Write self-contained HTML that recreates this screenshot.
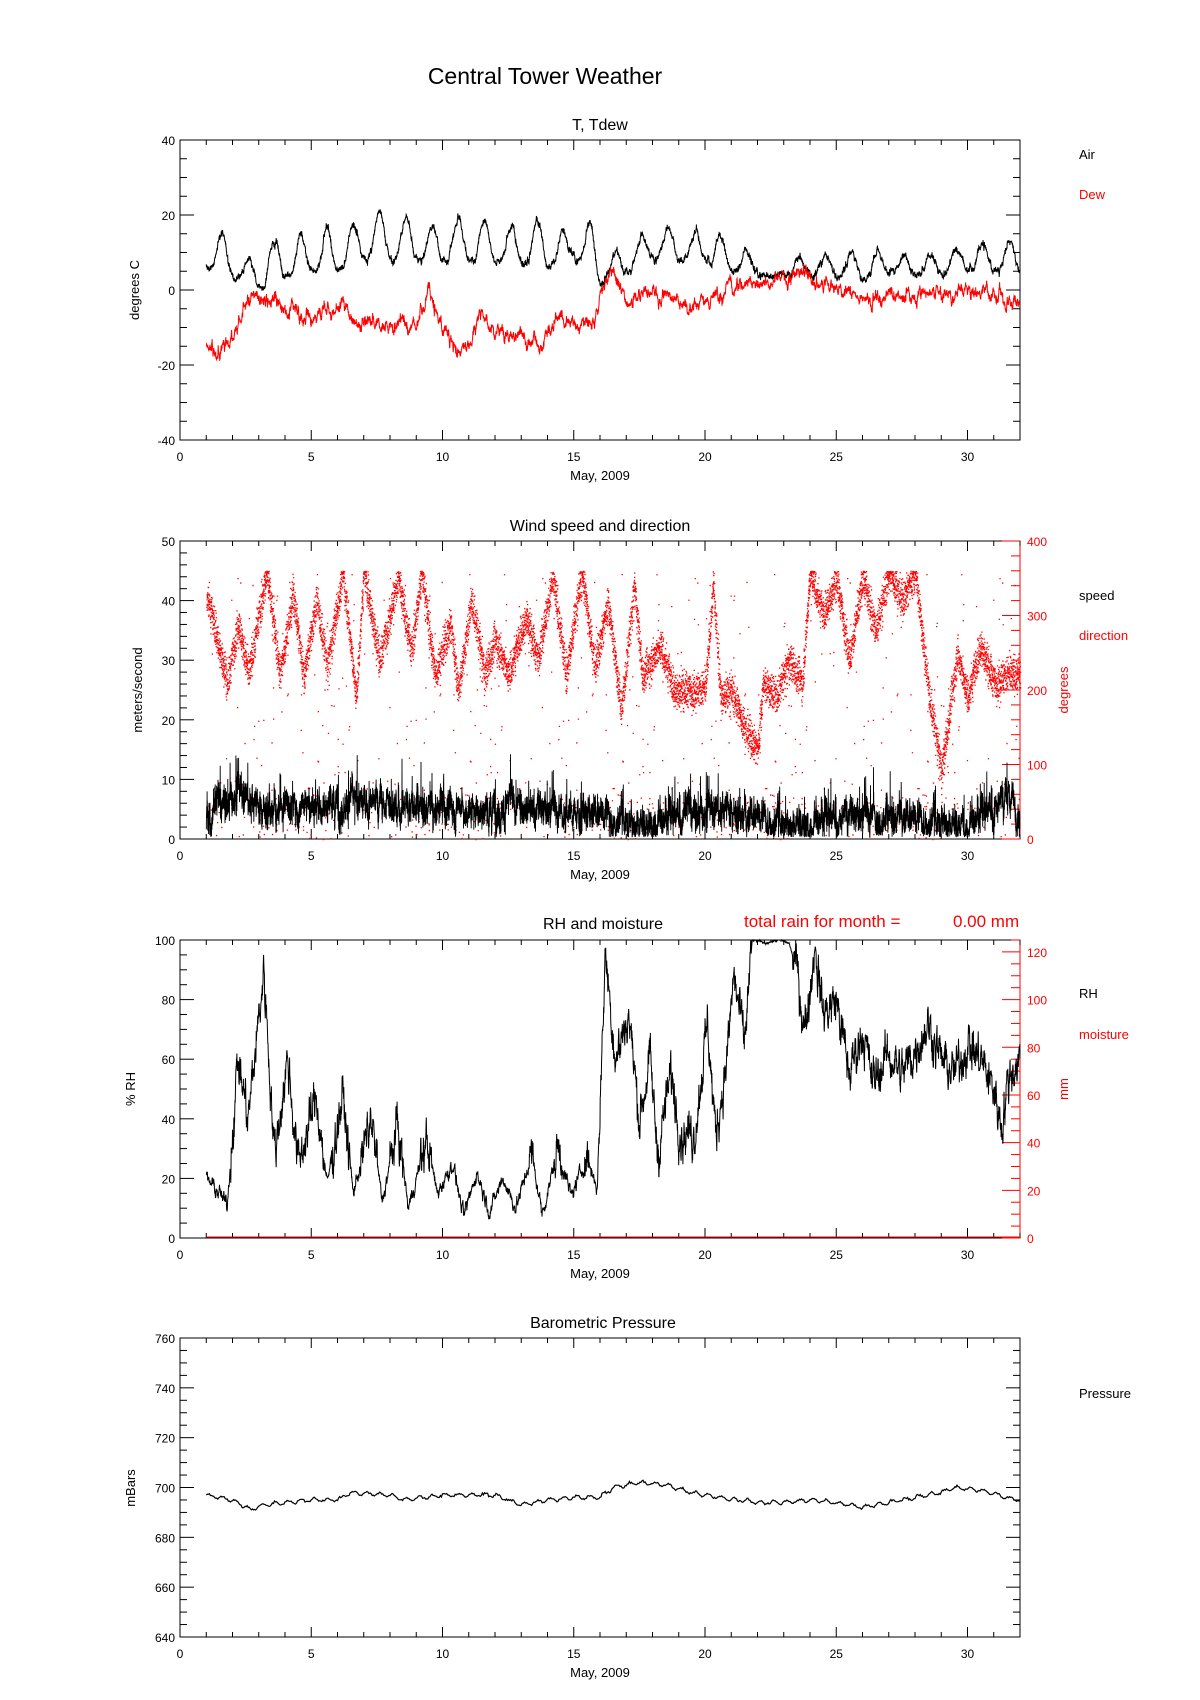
<!DOCTYPE html>
<html><head><meta charset="utf-8"><style>
html,body{margin:0;padding:0;background:#fff;}
svg{display:block;font-family:"Liberation Sans",sans-serif;}
</style></head><body>
<svg id="s" width="1200" height="1700" viewBox="0 0 1200 1700" xmlns="http://www.w3.org/2000/svg">
<text x="545" y="84" font-size="23" text-anchor="middle">Central Tower Weather</text>
<text x="600" y="130" font-size="16" text-anchor="middle">T, Tdew</text>
<text x="600" y="531" font-size="16" text-anchor="middle">Wind speed and direction</text>
<text x="603" y="929" font-size="16" text-anchor="middle">RH and moisture</text>
<text x="744" y="927" font-size="17" fill="#f00">total rain for month =</text>
<text x="953" y="927" font-size="17" fill="#f00">0.00 mm</text>
<text x="603" y="1328" font-size="16" text-anchor="middle">Barometric Pressure</text>
<text x="1079" y="159" font-size="13">Air</text>
<text x="1079" y="199" font-size="13" fill="#f00">Dew</text>
<text x="1079" y="600" font-size="13">speed</text>
<text x="1079" y="640" font-size="13" fill="#f00">direction</text>
<text x="1079" y="998" font-size="13">RH</text>
<text x="1079" y="1039" font-size="13" fill="#f00">moisture</text>
<text x="1079" y="1398" font-size="13">Pressure</text>
<text transform="translate(139,290) rotate(-90)" font-size="13" text-anchor="middle">degrees C</text>
<text transform="translate(142,690) rotate(-90)" font-size="13" text-anchor="middle">meters/second</text>
<text transform="translate(1068,690) rotate(-90)" font-size="13" text-anchor="middle" fill="#f00">degrees</text>
<text transform="translate(135,1089) rotate(-90)" font-size="13" text-anchor="middle">% RH</text>
<text transform="translate(1068,1089) rotate(-90)" font-size="13" text-anchor="middle" fill="#f00">mm</text>
<text transform="translate(135,1488) rotate(-90)" font-size="13" text-anchor="middle">mBars</text>
<g id="g"></g>
</svg>
<script>
(function(){
var g=document.getElementById('g');
var L=180,R=1020;
function X(d){return L+d*(R-L)/32;}
var seed=12345;function rnd(){seed=(seed*1103515245+12345)%2147483648;return seed/2147483648;}
function gauss(){return (rnd()+rnd()+rnd()-1.5)*1.15;}
var out='';
function interp(kp,d){for(var i=0;i<kp.length-1;i++){if(d>=kp[i][0]&&d<=kp[i+1][0]){var t=(d-kp[i][0])/(kp[i+1][0]-kp[i][0]);return kp[i][1]+(kp[i+1][1]-kp[i][1])*t;}}return kp[kp.length-1][1];}
function axes(T,B,ymin,ymax,ymaj,ymin2,rightRed,rmax,rmaj,rmin){
  var H=B-T;
  out+='<rect x="'+L+'" y="'+T+'" width="'+(R-L)+'" height="'+H+'" fill="none" stroke="#000" stroke-width="1"/>';
  if(rightRed) out+='<line x1="'+R+'" y1="'+T+'" x2="'+R+'" y2="'+B+'" stroke="#f00"/><line x1="'+L+'" y1="'+B+'" x2="'+R+'" y2="'+B+'" stroke="#000"/>';
  for(var d=0;d<=32;d++){var x=X(d),len=(d%5==0)?10:5;
    out+='<line x1="'+x+'" y1="'+B+'" x2="'+x+'" y2="'+(B-len)+'" stroke="#000"/><line x1="'+x+'" y1="'+T+'" x2="'+x+'" y2="'+(T+len)+'" stroke="#000"/>';
    if(d%5==0) out+='<text x="'+x+'" y="'+(B+21)+'" font-size="12" text-anchor="middle">'+d+'</text>';}
  out+='<text x="'+X(16)+'" y="'+(B+40)+'" font-size="13" text-anchor="middle">May, 2009</text>';
  function Y(v){return B-(v-ymin)/(ymax-ymin)*H;}
  for(var v=ymin;v<=ymax+1e-6;v+=ymin2){var y=Y(v),maj=Math.abs((v-ymin)/ymaj-Math.round((v-ymin)/ymaj))<1e-6,len=maj?14:7;
    out+='<line x1="'+L+'" y1="'+y+'" x2="'+(L+len)+'" y2="'+y+'" stroke="#000"/>';
    if(!rightRed) out+='<line x1="'+R+'" y1="'+y+'" x2="'+(R-len)+'" y2="'+y+'" stroke="#000"/>';
    if(maj) out+='<text x="'+(L-5)+'" y="'+(y+5)+'" font-size="12" text-anchor="end">'+v+'</text>';}
  if(rightRed){for(var v=0;v<=rmax+1e-6;v+=rmin){var y=B-v/rmax*H;var maj=(v%rmaj==0),len=maj?18:9;
    out+='<line x1="'+R+'" y1="'+y+'" x2="'+(R-len)+'" y2="'+y+'" stroke="#f00"/>';
    if(maj&&v<=(rmax==125?120:rmax)) out+='<text x="'+(R+7)+'" y="'+(y+5)+'" font-size="12" fill="#f00">'+v+'</text>';}}
  return Y;
}
function poly(pts,col,w){out+='<polyline fill="none" stroke="'+col+'" stroke-width="'+(w||1)+'" points="'+pts.join(' ')+'"/>';}
// Panel 1
var Y1=axes(140,440,-40,40,20,5,false);
var peaks=[[1,8],[1.6,15],[2.6,8],[3.6,14],[4.6,15],[5.6,17],[6.6,18],[7.6,21],[8.6,20],[9.6,17],[10.6,20],[11.6,19],[12.6,18],[13.6,19],[14.6,16],[15.6,19],[16.6,10],[17.6,15],[18.6,17],[19.6,16],[20.6,15],[21.6,11],[22.6,4],[23.6,9],[24.6,10],[25.6,11],[26.6,10],[27.6,10],[28.6,10],[29.6,11],[30.6,12],[31.6,14],[32,10]];
var trough=[[1,6],[2,4],[3,0],[4,3],[5,5],[6,5],[7,9],[8,8],[9,8],[10,8],[12,8],[14,6],[15,8],[16,2],[17,5],[18,8],[19,8],[20,7],[21,5],[22,4],[23,4],[24,4],[26,3],[28,4],[30,5],[32,5]];
var dew=[[1,-15],[1.4,-17],[2,-14],[2.4,-5],[3,-1],[3.5,-2],[4,-5],[5,-7],[6,-6],[7,-8],[8,-9],[9,-10],[9.5,-2],[10,-10],[10.5,-15],[11,-14],[11.5,-5],[12,-12],[13,-12],[13.7,-16],[14.5,-6],[15,-9],[15.8,-9],[16.1,1],[16.5,4],[17,-3],[18,0],[19,-3],[20,-3],[21,1],[22,3],[23,4],[24,3],[25,0],[26,-2],[27,-1],[28,-1],[29,-1],[30,0],[31,-1],[32,-3]];
var a=[],dw=[],dn=0,an=0;
for(var d=1;d<=32;d+=0.008){var ph=d-Math.floor(d);var pk=interp(peaks,Math.floor(d)+0.6),tr=interp(trough,d);
  var c=0.5-0.5*Math.cos(2*Math.PI*(ph-0.1));c=Math.pow(c,1.6);
  an=an*0.9+gauss()*0.5;
  var v=tr+(pk-tr)*c+an+gauss()*0.6;a.push(X(d).toFixed(1)+','+Y1(v).toFixed(1));
  dn=dn*0.9+gauss()*1.0;dw.push(X(d).toFixed(1)+','+Y1(interp(dew,d)+dn+gauss()*0.6).toFixed(1));}
poly(a,'#000');poly(dw,'#f00');
// Panel 2
var T2=541,B2=839,H2=B2-T2;
var Y2=axes(T2,B2,0,50,10,2,true,400,100,20);
function Yd(v){return B2-v/400*H2;}
var dirk=[[1,330],[1.8,210],[2.2,290],[2.6,220],[3.3,360],[3.8,220],[4.3,330],[4.7,220],[5.2,320],[5.6,230],[6.2,360],[6.7,190],[7,360],[7.6,240],[8.3,350],[8.8,250],[9.2,360],[9.7,220],[10.3,290],[10.6,200],[11.1,320],[11.6,220],[12,270],[12.5,220],[13.2,300],[13.6,240],[14.2,350],[14.7,220],[15.3,360],[15.8,230],[16.3,320],[16.8,170],[17.3,340],[17.6,220],[18.3,260],[18.8,200],[19.3,200],[20,200],[20.3,340],[20.6,190],[21,200],[21.5,150],[22,120],[22.2,210],[22.7,190],[23.2,240],[23.7,210],[24,360],[24.5,300],[25,350],[25.5,240],[26,350],[26.5,280],[27,360],[27.5,320],[28,360],[28.5,200],[29,90],[29.6,250],[30,190],[30.5,260],[31,210],[31.5,220],[32,220]];
var dots='';
for(var i=0;i<11000;i++){var d=1+31*i/11000;var v=interp(dirk,d)+gauss()*22;if(rnd()<0.04)v=rnd()*360;if(v>360)v=360-(v-360)*0.2;
  if(rnd()<0.025)v=rnd()*60;
  dots+='M'+X(d).toFixed(1)+' '+Yd(v).toFixed(1)+'h1.3v1.3h-1.3z';}
out+='<path d="'+dots+'" fill="#f00"/>';
var sp=[],sn=0;var spk=[[1,4],[2.3,8],[3,5],[7,6],[10,5],[15,5],[17.5,3],[19,4],[20.5,5],[23,3],[26,4],[30,3],[31.7,7],[32,4]];
for(var d=1;d<=32;d+=0.004){sn=sn*0.92+gauss()*0.9;var v=interp(spk,d)+sn+gauss()*2.0;if(rnd()<0.01)v+=5;if(v<0.3)v=0.3+rnd();sp.push(X(d).toFixed(1)+','+Y2(v).toFixed(1));}
poly(sp,'#000',0.9);
// Panel 3
var T3=940,B3=1238;
var Y3=axes(T3,B3,0,100,20,5,true,125,20,5);
var rhk=[[1,20],[1.5,15],[1.8,11],[2.2,60],[2.6,40],[3.2,90],[3.6,28],[4.1,60],[4.5,25],[5.2,47],[5.6,18],[6.2,48],[6.6,15],[7.3,40],[7.7,12],[8.3,38],[8.7,10],[9.4,33],[9.8,15],[10.4,25],[10.8,7],[11.3,22],[11.8,9],[12.3,20],[12.8,10],[13.4,28],[13.8,8],[14.4,30],[14.9,14],[15.5,27],[15.9,17],[16.2,96],[16.6,60],[17.1,75],[17.5,40],[17.9,60],[18.2,28],[18.7,55],[19.1,35],[19.6,35],[20.1,72],[20.4,35],[20.8,57],[21.1,88],[21.5,65],[21.8,100],[22.3,99],[22.8,100],[23.2,99],[23.5,90],[23.8,70],[24.2,98],[24.5,75],[25,80],[25.5,55],[26,70],[26.4,52],[27,62],[27.5,55],[28,63],[28.5,72],[29,60],[29.5,55],[30,65],[30.5,60],[31,50],[31.3,38],[31.6,55],[32,60]];
var rh=[],rn=0;
for(var d=1;d<=32;d+=0.008){rn=rn*0.75+gauss()*2.6;var base=interp(rhk,d);var v=base+(base>25?rn*(base>95?0.1:1.8):rn*0.6);if(v>100)v=100;if(v<3)v=3;rh.push(X(d).toFixed(1)+','+Y3(v).toFixed(1));}
poly(rh,'#000',1);
out+='<line x1="'+X(1)+'" y1="'+(B3-1)+'" x2="'+R+'" y2="'+(B3-1)+'" stroke="#f00"/>';
// Panel 4
var Y4=axes(1338,1637,640,760,20,5,false);
var pk=[[1,697],[2,695],[2.7,691],[3.2,693],[4,694],[5,695],[6,695],[6.5,698],[8,697],[8.5,695],[10,697],[11,697],[12,697],[13,693],[14,695],[15,696],[16,696],[16.5,700],[17.5,702],[18.5,701],[19.5,698],[20.5,696],[22,694],[23,694],[24,695],[25,694],[26,692],[27,694],[28,696],[29,698],[29.5,700],[30.5,699],[31.5,696],[32,695]];
var pp=[];for(var d=1;d<=32;d+=0.04){var v=interp(pk,d)+Math.sin(d*2*Math.PI*2)*0.7+gauss()*0.4;pp.push(X(d).toFixed(1)+','+Y4(v).toFixed(1));}
poly(pp,'#000',1.2);
g.innerHTML=out;
})();
</script>
</body></html>
